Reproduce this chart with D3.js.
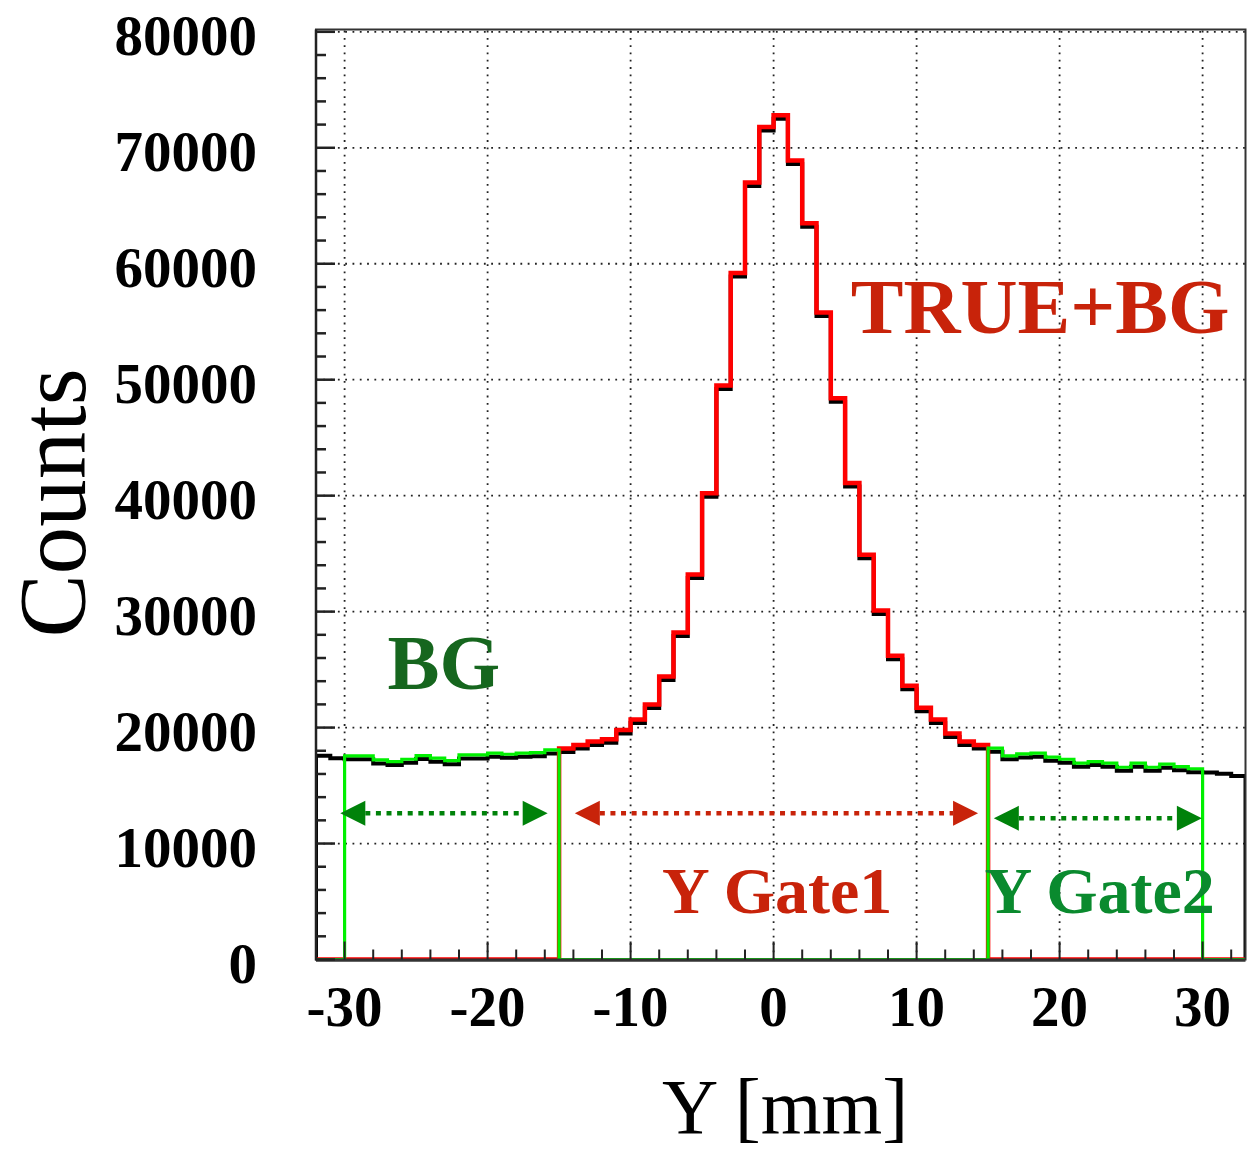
<!DOCTYPE html>
<html>
<head>
<meta charset="utf-8">
<script src="https://cdn.jsdelivr.net/npm/d3@7/dist/d3.min.js"></script>
<style>
  html, body { margin: 0; padding: 0; background: #fff; }
  svg { display: block; }
</style>
</head>
<body>
<svg id="chart" width="1247" height="1149"></svg>
<script>
// Y-position histogram, 1 mm bins from -32 to 33 mm
const binLeftEdges = d3.range(-32, 33);           // -32 ... 32
const counts = [
  17870, 17650, 17560, 17560, 17210, 17070, 17270, 17590, 17360, 17150,   // -32 .. -23
  17640, 17640, 17790, 17700, 17790, 17840, 18070, 18200, 18500, 18800,   // -22 .. -13
  19000, 19800, 20700, 22000, 24400, 28200, 33200, 40200, 49500, 59200,   // -12 .. -3
  67000, 71800, 72800, 68900, 63500, 55800, 48400, 41100, 34900, 30100,   //  -2 .. 7
  26200, 23600, 21700, 20700, 19500, 18800, 18500, 18220, 17560, 17730,   //   8 .. 17
  17790, 17450, 17270, 16930, 17070, 16930, 16580, 16930, 16580, 16840,   //  18 .. 27
  16630, 16450, 16420, 16330, 16130                                       //  28 .. 32
];

// gate windows (mm)
const gate1 = [-15, 15];
const gate2Windows = [[-30, -15], [15, 30]];

// axis ticks
const xTicks = [-30, -20, -10, 0, 10, 20, 30];
const yTicks = [0, 10000, 20000, 30000, 40000, 50000, 60000, 70000, 80000];
const xMinorStep = 2;
const yMinorStep = 2000;

// double-headed arrows marking the gate widths: [from, to, height]
const gate1Arrow = [-13.9, 14.3, 12610];
const gate2Arrows = [[-30.3, -15.8, 12610], [15.4, 29.95, 12180]];

// text labels: [text, x (mm), y (counts)]
const peakLabel = ["TRUE+BG", 5.4, 54050];
const bgLabel = ["BG", -27.0, 23300];
const gate1Label = ["Y Gate1", -7.8, 3980];
const gate2Label = ["Y Gate2", 14.75, 3980];

const xDomain = [-32, 33];
const yDomain = [0, 80200];

const frame = { left: 316, right: 1245.5, top: 29.5, bottom: 959.5 };

const x = d3.scaleLinear().domain(xDomain).range([frame.left, frame.right]);
const y = d3.scaleLinear().domain(yDomain).range([frame.bottom, frame.top]);

const svg = d3.select("#chart");
const serif = "'Liberation Serif', 'Times New Roman', serif";

svg.append("defs").append("clipPath").attr("id", "plot-clip")
  .append("rect")
  .attr("x", frame.left).attr("y", frame.top - 4)
  .attr("width", frame.right - frame.left).attr("height", frame.bottom - frame.top + 4);

// ---- dotted grid ----
const grid = svg.append("g").attr("stroke", "#222").attr("stroke-width", 1.8)
  .attr("stroke-dasharray", "1.8,5.5");
grid.selectAll("line.v").data(xTicks).join("line")
  .attr("x1", d => x(d)).attr("x2", d => x(d))
  .attr("y1", frame.bottom).attr("y2", frame.top);
grid.selectAll("line.h").data(yTicks).join("line")
  .attr("x1", frame.left).attr("x2", frame.right)
  .attr("y1", d => y(d)).attr("y2", d => y(d));

// ---- histogram step paths ----
function stepPoints(valueOf) {
  const pts = [[xDomain[0], 0]];
  binLeftEdges.forEach((e, i) => pts.push([e, valueOf(e, counts[i])]));
  const lastEdge = binLeftEdges[binLeftEdges.length - 1] + 1;
  pts.push([lastEdge, valueOf(lastEdge - 1, counts[counts.length - 1])]);
  pts.push([lastEdge, 0]);
  return pts;
}
const stepLine = d3.line().x(d => x(d[0])).y(d => y(d[1])).curve(d3.curveStepAfter);

const inGate1 = e => e >= gate1[0] && e < gate1[1];
const inGate2 = e => gate2Windows.some(w => e >= w[0] && e < w[1]);

const hists = svg.append("g").attr("clip-path", "url(#plot-clip)").attr("fill", "none")
  .attr("stroke-linejoin", "miter");

// all events (drawn as a shadow beneath the gated spectra)
hists.append("path")
  .attr("d", stepLine(stepPoints((e, v) => v)))
  .attr("transform", "translate(0,3.5)")
  .attr("stroke", "#000").attr("stroke-width", 4);

// central gate: true + background
hists.append("path")
  .attr("d", stepLine(stepPoints((e, v) => inGate1(e) ? v : 0)))
  .attr("stroke", "#ff0000").attr("stroke-width", 4.5);

// side gates: background only
hists.append("path")
  .attr("d", stepLine(stepPoints((e, v) => inGate2(e) ? v : 0)))
  .attr("stroke", "#00f000").attr("stroke-width", 3.2);

// ---- frame ----
svg.append("rect")
  .attr("x", frame.left).attr("y", frame.top)
  .attr("width", frame.right - frame.left).attr("height", frame.bottom - frame.top)
  .attr("fill", "none").attr("stroke", "#333").attr("stroke-width", 2);
svg.append("line").attr("x1", frame.left).attr("x2", frame.left)
  .attr("y1", frame.top).attr("y2", frame.bottom + 1).attr("stroke", "#222").attr("stroke-width", 2.5);
svg.append("line").attr("x1", frame.left).attr("x2", frame.right)
  .attr("y1", frame.bottom + 1).attr("y2", frame.bottom + 1).attr("stroke", "#333").attr("stroke-width", 2.5);

// ---- ticks (inside the frame) ----
const ticks = svg.append("g").attr("stroke", "#222");
const yMinor = d3.range(yDomain[0], yDomain[1], yMinorStep).filter(v => v % 10000 !== 0);
ticks.selectAll("line.ymaj").data(yTicks).join("line")
  .attr("x1", frame.left).attr("x2", frame.left + 19)
  .attr("y1", d => y(d)).attr("y2", d => y(d)).attr("stroke-width", 2.5);
ticks.selectAll("line.ymin").data(yMinor).join("line")
  .attr("x1", frame.left).attr("x2", frame.left + 10)
  .attr("y1", d => y(d)).attr("y2", d => y(d)).attr("stroke-width", 2.5);
const xMinor = d3.range(xDomain[0], xDomain[1], xMinorStep).filter(v => v % 10 !== 0);
ticks.selectAll("line.xmaj").data(xTicks).join("line")
  .attr("x1", d => x(d)).attr("x2", d => x(d))
  .attr("y1", frame.bottom).attr("y2", frame.bottom - 18).attr("stroke-width", 2);
ticks.selectAll("line.xmin").data(xMinor).join("line")
  .attr("x1", d => x(d)).attr("x2", d => x(d))
  .attr("y1", frame.bottom).attr("y2", frame.bottom - 10).attr("stroke-width", 2);

// ---- tick labels ----
svg.append("g").selectAll("text").data(yTicks).join("text")
  .attr("x", 257).attr("y", d => y(d) + 23)
  .attr("text-anchor", "end")
  .attr("font-family", serif).attr("font-weight", "bold").attr("font-size", 57)
  .text(d => d);
svg.append("g").selectAll("text").data(xTicks).join("text")
  .attr("x", d => x(d)).attr("y", 1026)
  .attr("text-anchor", "middle")
  .attr("font-family", serif).attr("font-weight", "bold").attr("font-size", 57)
  .text(d => d);

// ---- axis titles ----
svg.append("text")
  .attr("transform", "translate(85,503) rotate(-90)")
  .attr("text-anchor", "middle")
  .attr("font-family", serif).attr("font-size", 95)
  .text("Counts");
svg.append("text")
  .attr("x", 785).attr("y", 1133)
  .attr("text-anchor", "middle")
  .attr("font-family", serif).attr("font-size", 78)
  .text("Y [mm]");

// ---- gate arrows ----
const RED = "#c8230a", GREEN = "#00820a";
function arrow(a, color) {
  const g = svg.append("g");
  const head = 25, half = 12.5;
  const x0 = x(a[0]), x1 = x(a[1]), yy = y(a[2]);
  g.append("line")
    .attr("x1", x0 + head).attr("x2", x1 - head)
    .attr("y1", yy).attr("y2", yy)
    .attr("stroke", color).attr("stroke-width", 4.5)
    .attr("stroke-dasharray", "5,5.6");
  g.append("path")
    .attr("d", `M${x0},${yy} L${x0 + head},${yy - half} L${x0 + head},${yy + half} Z`)
    .attr("fill", color);
  g.append("path")
    .attr("d", `M${x1},${yy} L${x1 - head},${yy - half} L${x1 - head},${yy + half} Z`)
    .attr("fill", color);
}
gate2Arrows.forEach(a => arrow(a, GREEN));
arrow(gate1Arrow, RED);

// ---- labels ----
function label(l, color, size) {
  svg.append("text")
    .attr("x", x(l[1])).attr("y", y(l[2]))
    .attr("font-family", serif).attr("font-weight", "bold").attr("font-size", size)
    .attr("fill", color)
    .text(l[0]);
}
label(peakLabel, RED, 79);
label(bgLabel, "#16661e", 78);
label(gate1Label, RED, 66);
label(gate2Label, "#0a8a2e", 66);
</script>
</body>
</html>
